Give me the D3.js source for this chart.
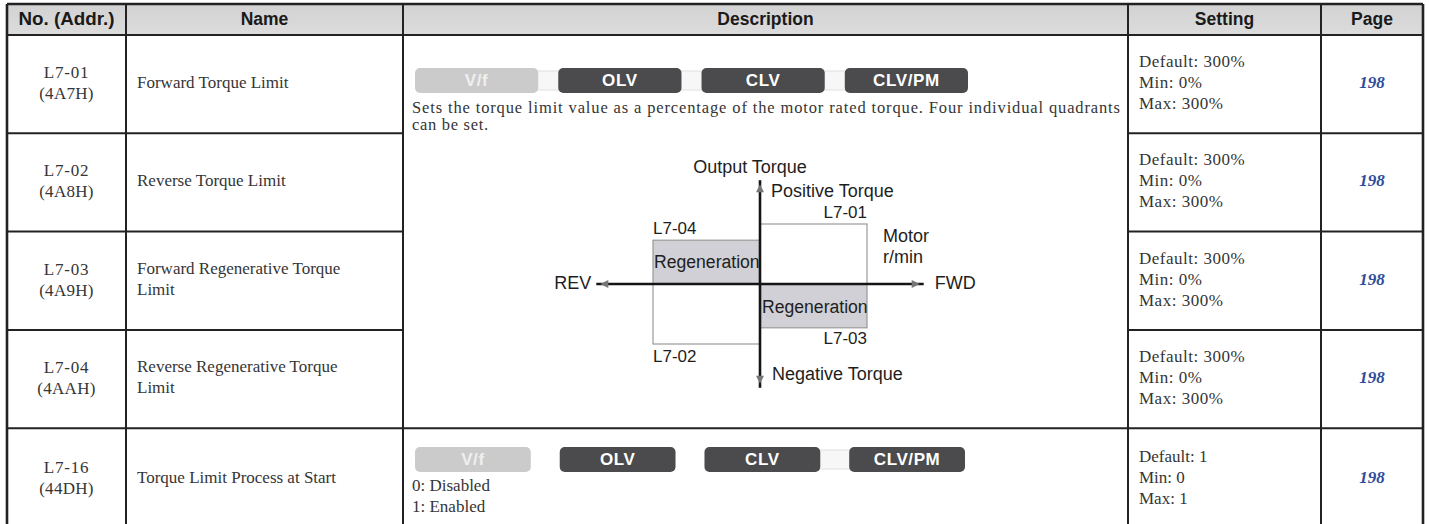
<!DOCTYPE html>
<html><head><meta charset="utf-8">
<script src="https://cdn.jsdelivr.net/npm/d3@7/dist/d3.min.js"></script>
<style>html,body{margin:0;padding:0;background:#fff;}svg{display:block;}</style>
</head><body>
<svg id="chart" width="1429" height="524"></svg>
<script>
// ---------- DATA ----------
const headers = ["No. (Addr.)", "Name", "Description", "Setting", "Page"];
const paramNos = ["L7-01", "L7-02", "L7-03", "L7-04", "L7-16"];
const paramAddrs = ["(4A7H)", "(4A8H)", "(4A9H)", "(4AAH)", "(44DH)"];
const paramNames = [["Forward Torque Limit"], ["Reverse Torque Limit"], ["Forward Regenerative Torque", "Limit"], ["Reverse Regenerative Torque", "Limit"], ["Torque Limit Process at Start"]];
const settingDefaults = ["Default: 300%", "Default: 300%", "Default: 300%", "Default: 300%", "Default: 1"];
const settingMins = ["Min: 0%", "Min: 0%", "Min: 0%", "Min: 0%", "Min: 0"];
const settingMaxs = ["Max: 300%", "Max: 300%", "Max: 300%", "Max: 300%", "Max: 1"];
const pages = ["198", "198", "198", "198", "198"];
const controlModes = ["V/f", "OLV", "CLV", "CLV/PM"];
const modeEnabled = [false, true, true, true];
const descTorque = ["Sets the torque limit value as a percentage of the motor rated torque. Four individual quadrants", "can be set."];
const descStart = ["0: Disabled", "1: Enabled"];
// Torque-limit quadrants: speed sign, relative torque limit, regeneration?
const quadrants = [
  {param: "L7-01", speed: 1, torque: 1.0, regen: false},
  {param: "L7-03", speed: 1, torque: -0.73, regen: true},
  {param: "L7-02", speed: -1, torque: -1.0, regen: false},
  {param: "L7-04", speed: -1, torque: 0.73, regen: true}
];

// ---------- LAYOUT ----------
const svg = d3.select("#chart");
const W = 1429, H = 524;
const colEdges = [7, 126, 403, 1128, 1321, 1423];
const headerTop = 4, headerBottom = 35;
const rowScale = d3.scaleBand().domain(paramNos).range([headerBottom, headerBottom + 5 * 98.3]);
const serif = "'Liberation Serif','Times New Roman',serif";
const sans = "'Liberation Sans',Arial,Helvetica,sans-serif";
const textCol = "#353535";

svg.append("rect").attr("width", W).attr("height", H).attr("fill", "#fff");

const hg = svg.append("defs").append("linearGradient").attr("id", "hdr").attr("x1", 0).attr("x2", 0).attr("y1", 0).attr("y2", 1);
hg.append("stop").attr("offset", "0%").attr("stop-color", "#d2d2d2");
hg.append("stop").attr("offset", "100%").attr("stop-color", "#dcdcdc");
svg.append("rect").attr("x", colEdges[0]).attr("y", headerTop)
  .attr("width", colEdges[5] - colEdges[0]).attr("height", headerBottom - headerTop)
  .attr("fill", "url(#hdr)");

headers.forEach((h, i) => {
  const t = svg.append("text").attr("x", (colEdges[i] + colEdges[i + 1]) / 2).attr("y", (headerTop + headerBottom) / 2 + 1)
    .attr("text-anchor", "middle").attr("dominant-baseline", "middle")
    .attr("font-family", sans).attr("font-weight", "bold").attr("font-size", 17.5)
    .attr("fill", "#1a1a1a").text(h);
  if (i === 0) t.attr("textLength", 96).attr("lengthAdjust", "spacingAndGlyphs");
});

paramNos.forEach((p, i) => {
  const y0 = rowScale(p), yc = y0 + rowScale.bandwidth() / 2 + (i === 4 ? 2 : 0);
  const last = i === 4;
  svg.append("text").attr("x", (colEdges[0] + colEdges[1]) / 2).attr("y", yc - 10)
    .attr("text-anchor", "middle").attr("dominant-baseline", "middle").attr("letter-spacing", 0.8)
    .attr("font-family", serif).attr("font-size", 17).attr("fill", textCol).text(p);
  svg.append("text").attr("x", (colEdges[0] + colEdges[1]) / 2).attr("y", yc + 11)
    .attr("text-anchor", "middle").attr("dominant-baseline", "middle").attr("letter-spacing", 0.3)
    .attr("font-family", serif).attr("font-size", 17).attr("fill", textCol).text(paramAddrs[i]);
  const nl = paramNames[i];
  nl.forEach((t, j) => {
    svg.append("text").attr("x", colEdges[1] + 11).attr("y", yc + (j - (nl.length - 1) / 2) * 21)
      .attr("dominant-baseline", "middle")
      .attr("font-family", serif).attr("font-size", 17).attr("fill", textCol).text(t);
  });
  [settingDefaults[i], settingMins[i], settingMaxs[i]].forEach((t, j) => {
    svg.append("text").attr("x", colEdges[3] + 11).attr("y", yc + (j - 1) * 21)
      .attr("dominant-baseline", "middle").attr("letter-spacing", last ? 0 : 0.5)
      .attr("font-family", serif).attr("font-size", 17).attr("fill", textCol).text(t);
  });
  svg.append("text").attr("x", (colEdges[4] + colEdges[5]) / 2).attr("y", yc)
    .attr("text-anchor", "middle").attr("dominant-baseline", "middle")
    .attr("font-family", serif).attr("font-size", 17).attr("font-weight", "bold").attr("font-style", "italic")
    .attr("fill", "#2e4c9c").text(pages[i]);
});

function drawBadges(yTop, connectorFlags, x0, x1, pad) {
  const bx = d3.scaleBand().domain(controlModes).range([x0, x1]).paddingInner(pad);
  const bh = 25;
  const g = svg.append("g");
  controlModes.forEach((m, i) => {
    if (i > 0 && connectorFlags[i - 1]) {
      g.append("rect").attr("x", bx(controlModes[i - 1]) + bx.bandwidth() - 2).attr("y", yTop + 3)
        .attr("width", bx.step() - bx.bandwidth() + 4).attr("height", bh - 6)
        .attr("fill", "#f7f7f7").attr("stroke", "#e0e0e0").attr("stroke-width", 1);
    }
  });
  controlModes.forEach((m, i) => {
    g.append("rect").attr("x", bx(m)).attr("y", yTop).attr("width", bx.bandwidth()).attr("height", bh)
      .attr("rx", 5).attr("ry", 5)
      .attr("fill", modeEnabled[i] ? "#4b4b4d" : "#cbcbcb");
    g.append("text").attr("x", bx(m) + bx.bandwidth() / 2).attr("y", yTop + bh / 2 + 1)
      .attr("text-anchor", "middle").attr("dominant-baseline", "middle").attr("letter-spacing", 0.6)
      .attr("font-family", sans).attr("font-weight", "bold").attr("font-size", 17)
      .attr("fill", modeEnabled[i] ? "#ffffff" : "#efefef").text(m);
  });
}
drawBadges(68, [true, true, true], 415, 968, 0.14);
drawBadges(447, [false, false, true], 415, 965, 0.2);

descTorque.forEach((t, j) => {
  const tx = svg.append("text").attr("x", colEdges[2] + 9).attr("y", 109 + j * 17)
    .attr("dominant-baseline", "middle")
    .attr("font-family", serif).attr("font-size", 16.5).attr("fill", textCol).text(t);
  if (j === 0) tx.attr("textLength", 708).attr("lengthAdjust", "spacing");
  else tx.attr("letter-spacing", 0.7);
});
descStart.forEach((t, j) => {
  svg.append("text").attr("x", colEdges[2] + 9).attr("y", 487 + j * 21)
    .attr("dominant-baseline", "middle")
    .attr("font-family", serif).attr("font-size", 17).attr("fill", textCol).text(t);
});

// ---------- torque diagram ----------
const sx = d3.scaleLinear().domain([-1, 1]).range([653, 867]);
const ty = d3.scaleLinear().domain([-1, 1]).range([344, 224]);
const dg = svg.append("g");
quadrants.forEach(q => {
  const x0 = Math.min(sx(0), sx(q.speed)), x1 = Math.max(sx(0), sx(q.speed));
  const y0 = Math.min(ty(0), ty(q.torque)), y1 = Math.max(ty(0), ty(q.torque));
  dg.append("rect").attr("x", x0).attr("y", y0).attr("width", x1 - x0).attr("height", y1 - y0)
    .attr("fill", q.regen ? "#d0d0d6" : "none").attr("stroke", "#9a9a9a").attr("stroke-width", 1.2);
});
const lab = (x, y, t, anchor, size) => dg.append("text").attr("x", x).attr("y", y)
  .attr("text-anchor", anchor || "start").attr("dominant-baseline", "middle")
  .attr("font-family", sans).attr("font-size", size || 18).attr("fill", "#1e1e1e").text(t);

lab(sx(1), ty(1) - 10, "L7-01", "end", 17);
lab(sx(1), ty(-0.73) + 12, "L7-03", "end", 17);
lab(sx(-1), ty(0.73) - 11, "L7-04", "start", 17);
lab(sx(-1), ty(-1) + 14, "L7-02", "start", 17);
lab(sx(-1) + 1, ty(0.35), "Regeneration", "start", 17.6);
lab(sx(0) + 2, ty(-0.4), "Regeneration", "start", 17.6);

const xAxisExt = 1.53, yAxisExt = 1.73;
dg.append("line").attr("x1", sx(-xAxisExt)).attr("x2", sx(xAxisExt)).attr("y1", ty(0)).attr("y2", ty(0))
  .attr("stroke", "#151515").attr("stroke-width", 2.6);
dg.append("line").attr("x1", sx(0)).attr("x2", sx(0)).attr("y1", ty(yAxisExt)).attr("y2", ty(-yAxisExt))
  .attr("stroke", "#151515").attr("stroke-width", 2.6);
const ah = (x, y, dir) => {
  const s = 6;
  let pts;
  if (dir === "r") pts = [[x + s, y], [x - 2, y - 4], [x - 2, y + 4]];
  if (dir === "l") pts = [[x - s, y], [x + 2, y - 4], [x + 2, y + 4]];
  if (dir === "u") pts = [[x, y - s], [x - 4, y + 2], [x + 4, y + 2]];
  if (dir === "d") pts = [[x, y + s], [x - 4, y - 2], [x + 4, y - 2]];
  dg.append("path").attr("d", d3.line()(pts) + "Z").attr("fill", "#777");
};
ah(sx(xAxisExt) - 10, ty(0), "r");
ah(sx(-xAxisExt) + 10, ty(0), "l");
ah(sx(0), ty(yAxisExt) + 10, "u");
ah(sx(0), ty(-yAxisExt) - 10, "d");

lab(sx(xAxisExt) + 11, ty(0), "FWD", "start");
lab(sx(-xAxisExt) - 5, ty(0), "REV", "end");
lab(sx(0) - 10, ty(yAxisExt) - 12, "Output Torque", "middle");
lab(sx(0) + 11, ty(yAxisExt) + 12, "Positive Torque", "start");
lab(sx(0) + 12, ty(-yAxisExt) - 13, "Negative Torque", "start");
lab(sx(1) + 16, ty(0.78), "Motor", "start");
lab(sx(1) + 16, ty(0.43), "r/min", "start");

// ---------- grid lines ----------
const gl = svg.append("g").attr("stroke", "#222");
gl.append("line").attr("x1", colEdges[0]).attr("x2", colEdges[5]).attr("y1", headerTop).attr("y2", headerTop).attr("stroke-width", 2.5);
gl.append("line").attr("x1", colEdges[0]).attr("x2", colEdges[5]).attr("y1", headerBottom).attr("y2", headerBottom).attr("stroke-width", 2);
colEdges.forEach((x, i) => {
  gl.append("line").attr("x1", x).attr("x2", x).attr("y1", headerTop).attr("y2", H)
    .attr("stroke-width", (i === 0 || i === 5) ? 2.6 : 2);
});
paramNos.slice(1).forEach((p, i) => {
  const y = rowScale(p);
  const idx = i + 1;
  const segs = idx < 4 ? [[colEdges[0], colEdges[2]], [colEdges[3], colEdges[5]]] : [[colEdges[0], colEdges[5]]];
  segs.forEach(s => gl.append("line").attr("x1", s[0]).attr("x2", s[1]).attr("y1", y).attr("y2", y).attr("stroke-width", 2));
});
</script>
</body></html>
